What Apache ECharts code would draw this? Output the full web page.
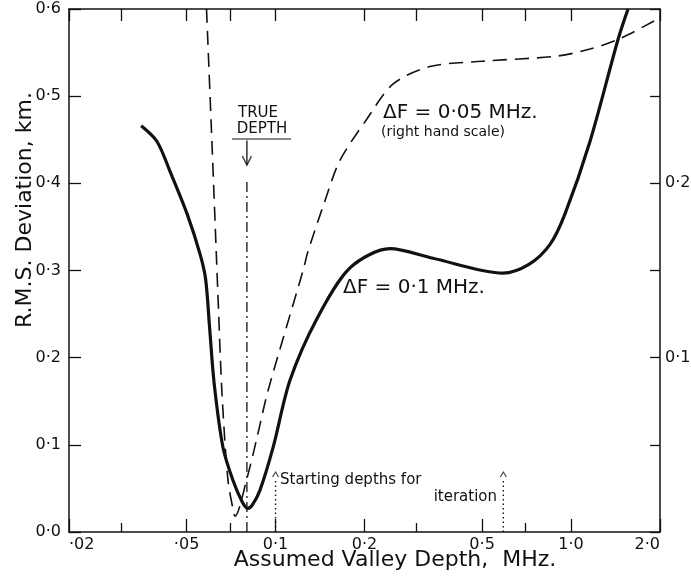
<!DOCTYPE html>
<html><head><meta charset="utf-8">
<script src="https://cdn.jsdelivr.net/npm/echarts@6/dist/echarts.min.js"></script>
<style>html,body{margin:0;padding:0;background:#fff}#c{width:691px;height:578px}</style>
</head><body><div id="c"></div>
<script>
// ---- data ----
const xMajorTicks = [0.02, 0.05, 0.1, 0.2, 0.5, 1.0, 2.0];
const xMajorLabels = ['·02', '·05', '0·1', '0·2', '0·5', '1·0', '2·0'];
const xMinorTicks = [0.03, 0.07, 0.3, 0.7];
const rightLabelValues = [0.1, 0.2];
const rightLabelTexts = ['0·1', '0·2'];

// ΔF = 0.1 MHz (left scale, km)
const solidDepth = [0.0351, 0.0397, 0.0439, 0.0502, 0.0555, 0.0580, 0.0598, 0.0620, 0.0664, 0.0718, 0.0770, 0.0805, 0.0835, 0.0886, 0.0981, 0.1119, 0.1382, 0.1786, 0.244, 0.341, 0.588, 0.72, 0.849, 0.954, 1.159, 1.442, 1.559];
const solidRms   = [0.466, 0.448, 0.414, 0.365, 0.319, 0.290, 0.235, 0.170, 0.097, 0.059, 0.035, 0.027, 0.031, 0.048, 0.097, 0.174, 0.245, 0.303, 0.325, 0.314, 0.297, 0.307, 0.330, 0.365, 0.448, 0.565, 0.600];

// ΔF = 0.05 MHz (right hand scale)
const dashedDepth = [0.0584, 0.0611, 0.0639, 0.0659, 0.0690, 0.0718, 0.0729, 0.0801, 0.0865, 0.0943, 0.1239, 0.1288, 0.147, 0.165, 0.204, 0.250, 0.333, 0.50, 0.896, 1.159, 1.464, 2.0];
const dashedRms   = [0.300, 0.218, 0.134, 0.079, 0.030, 0.013, 0.009, 0.031, 0.054, 0.081, 0.150, 0.161, 0.190, 0.213, 0.237, 0.257, 0.267, 0.270, 0.273, 0.277, 0.283, 0.295];

const trueDepth = 0.08;
const trueDepthLineTop = 0.405;
const trueArrowTop = 0.449;
const trueArrowTip = 0.421;
const startDepths = [0.1, 0.59];
const startLineTop = 0.062;

// ---- chart ----
const FONT = "'DejaVu Sans', sans-serif";
const BLACK = '#111';
const zip = (a, b) => a.map((v, i) => [v, b[i]]);
const near = (v, t) => Math.abs(Math.log10(v) - Math.log10(t)) < 1e-6;

function xAxisCfg(position, ticks, len, withLine, withLabels) {
  return {
    type: 'log', logBase: 10, min: 0.02, max: 2, position: position,
    axisLine: { show: withLine, onZero: false, lineStyle: { color: BLACK, width: 1.5 } },
    axisTick: { show: true, inside: true, length: len, customValues: ticks, lineStyle: { color: BLACK, width: 1.3 } },
    axisLabel: withLabels ? {
      show: true, customValues: xMajorTicks, color: BLACK, fontSize: 16, fontFamily: FONT, margin: 5,
      alignMinLabel: 'left', alignMaxLabel: 'right',
      formatter: v => { const i = xMajorTicks.findIndex(t => near(v, t)); return i >= 0 ? xMajorLabels[i] : ''; }
    } : { show: false },
    splitLine: { show: false }, minorTick: { show: false }, minorSplitLine: { show: false }
  };
}

const chart = echarts.init(document.getElementById('c'), null, { renderer: 'canvas' });
chart.setOption({
  animation: false,
  backgroundColor: '#fff',
  grid: { left: 69, right: 31, top: 9, bottom: 46, containLabel: false, outerBoundsMode: 'none' },
  xAxis: [
    xAxisCfg('bottom', xMajorTicks, 13, true, true),
    xAxisCfg('top', xMajorTicks, 12, true, false),
    xAxisCfg('bottom', xMinorTicks, 9, false, false),
    xAxisCfg('top', xMinorTicks, 12, false, false)
  ],
  yAxis: [
    {
      type: 'value', min: 0, max: 0.6, interval: 0.1, position: 'left',
      axisLine: { show: true, onZero: false, lineStyle: { color: BLACK, width: 1.5 } },
      axisTick: { show: true, inside: true, length: 12, lineStyle: { color: BLACK, width: 1.3 } },
      axisLabel: { color: BLACK, fontSize: 16, fontFamily: FONT, margin: 8, formatter: v => v.toFixed(1).replace('.', '·') },
      splitLine: { show: false }
    },
    {
      type: 'value', min: 0, max: 0.3, interval: 0.05, position: 'right',
      axisLine: { show: true, onZero: false, lineStyle: { color: BLACK, width: 1.5 } },
      axisTick: { show: true, inside: true, length: 10, lineStyle: { color: BLACK, width: 1.3 } },
      axisLabel: {
        color: BLACK, fontSize: 16, fontFamily: FONT, margin: 5,
        formatter: v => { const i = rightLabelValues.findIndex(t => Math.abs(v - t) < 1e-6); return i >= 0 ? rightLabelTexts[i] : ''; }
      },
      splitLine: { show: false }
    }
  ],
  series: [
    {
      name: 'ΔF = 0·1 MHz.', type: 'line', xAxisIndex: 0, yAxisIndex: 0,
      data: zip(solidDepth, solidRms), showSymbol: false, smooth: 0.3,
      lineStyle: { color: BLACK, width: 3.2 }
    },
    {
      name: 'ΔF = 0·05 MHz.', type: 'line', xAxisIndex: 0, yAxisIndex: 1,
      data: zip(dashedDepth, dashedRms), showSymbol: false, smooth: 0.3,
      lineStyle: { color: BLACK, width: 1.6, type: [14, 8] }
    },
    {
      type: 'line', xAxisIndex: 0, yAxisIndex: 0, showSymbol: false,
      data: [[trueDepth, 0], [trueDepth, trueDepthLineTop]],
      lineStyle: { color: BLACK, width: 1.3, type: [10, 4, 2, 4] }
    },
    {
      type: 'line', xAxisIndex: 0, yAxisIndex: 0, showSymbol: false,
      data: [[trueDepth, trueArrowTop], [trueDepth, trueArrowTip]],
      lineStyle: { color: BLACK, width: 1.3 }
    },
    {
      type: 'scatter', xAxisIndex: 0, yAxisIndex: 0,
      data: [[trueDepth, trueArrowTip + 0.005]],
      symbol: 'path://M0,0 L5,8 L10,0', symbolSize: [9, 9],
      itemStyle: { color: 'rgba(0,0,0,0)', borderColor: BLACK, borderWidth: 1.4 }
    },
    {
      type: 'line', xAxisIndex: 0, yAxisIndex: 0, showSymbol: false,
      data: [[startDepths[0], 0], [startDepths[0], startLineTop]],
      lineStyle: { color: BLACK, width: 1.4, type: [1.5, 3] }
    },
    {
      type: 'line', xAxisIndex: 0, yAxisIndex: 0, showSymbol: false,
      data: [[startDepths[1], 0], [startDepths[1], startLineTop]],
      lineStyle: { color: BLACK, width: 1.4, type: [1.5, 3] }
    },
    {
      type: 'scatter', xAxisIndex: 0, yAxisIndex: 0,
      data: startDepths.map(d => [d, startLineTop + 0.004]),
      symbol: 'path://M0,6 L4,0 L8,6', symbolSize: [6, 5],
      itemStyle: { color: 'rgba(0,0,0,0)', borderColor: BLACK, borderWidth: 1 }
    }
  ],
  graphic: [
    { type: 'text', x: 25, y: 210, rotation: Math.PI / 2,
      style: { text: 'R.M.S. Deviation, km.', fill: BLACK, font: "22px 'DejaVu Sans', sans-serif", align: 'center', verticalAlign: 'middle' } },
    { type: 'text', x: 395, y: 560,
      style: { text: 'Assumed Valley Depth,  MHz.', fill: BLACK, font: "22px 'DejaVu Sans', sans-serif", align: 'center', verticalAlign: 'middle' } },
    { type: 'text', x: 258, y: 113,
      style: { text: 'TRUE', fill: BLACK, font: "15px 'DejaVu Sans', sans-serif", align: 'center', verticalAlign: 'middle' } },
    { type: 'text', x: 262, y: 129,
      style: { text: 'DEPTH', fill: BLACK, font: "15px 'DejaVu Sans', sans-serif", align: 'center', verticalAlign: 'middle' } },
    { type: 'line', shape: { x1: 232, y1: 139, x2: 291, y2: 139 }, style: { stroke: BLACK, lineWidth: 1 } },
    { type: 'text', x: 383, y: 113,
      style: { text: 'ΔF = 0·05 MHz.', fill: BLACK, font: "20px 'DejaVu Sans', sans-serif", align: 'left', verticalAlign: 'middle' } },
    { type: 'text', x: 381, y: 132,
      style: { text: '(right hand scale)', fill: BLACK, font: "14px 'DejaVu Sans', sans-serif", align: 'left', verticalAlign: 'middle' } },
    { type: 'text', x: 343, y: 288,
      style: { text: 'ΔF = 0·1 MHz.', fill: BLACK, font: "20px 'DejaVu Sans', sans-serif", align: 'left', verticalAlign: 'middle' } },
    { type: 'text', x: 280, y: 480,
      style: { text: 'Starting depths for', fill: BLACK, font: "15px 'DejaVu Sans', sans-serif", align: 'left', verticalAlign: 'middle' } },
    { type: 'text', x: 497, y: 497,
      style: { text: 'iteration', fill: BLACK, font: "15px 'DejaVu Sans', sans-serif", align: 'right', verticalAlign: 'middle' } }
  ]
});
</script>
</body></html>
